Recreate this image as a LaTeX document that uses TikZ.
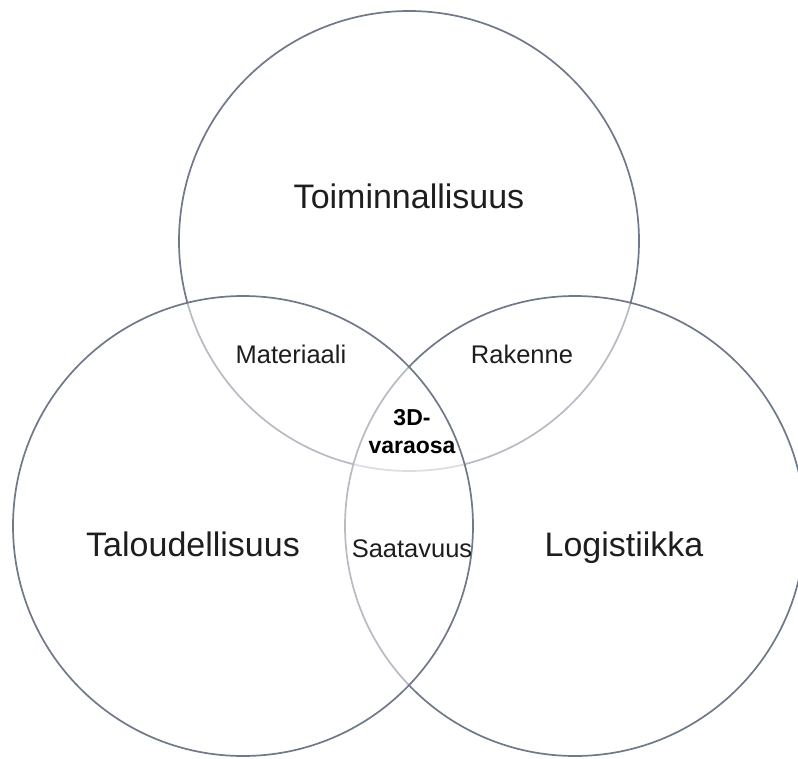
\documentclass[tikz,border=0pt]{standalone}
\usepackage{fontspec}
\setmainfont{Liberation Sans}
\usepackage{xcolor}
\usepackage{tikz}
\definecolor{ringgray}{HTML}{6F7989}
\definecolor{textgray}{HTML}{1E1E1E}
\tikzstyle{ring} = [circle, draw=ringgray, line width=1.7pt, fill=white, fill opacity=0.5, inner sep=0pt, minimum size=460pt]
\tikzstyle{l1} = [text=textgray, inner sep=0pt, anchor=base, font=\fontsize{34}{40}\selectfont]
\tikzstyle{l2} = [text=textgray, inner sep=0pt, anchor=base, font=\fontsize{25.5}{30}\selectfont]
\tikzstyle{l3} = [text=black, inner sep=0pt, align=center, font=\bfseries\fontsize{23}{28}\selectfont]

\begin{document}
\begin{tikzpicture}[x=1pt, y=-1pt]
\useasboundingbox (0,0) rectangle (798,758);
\clip (0,0) rectangle (798,758);
% sets
\node(T)[ring] at (409,241) {};
\node(L)[ring] at (575,526) {};
\node(E)[ring] at (243,526) {};
% labels
\node(TT)[l1] at (409,208) {Toiminnallisuus};
\node(EE)[l1] at (193,556) {Taloudellisuus};
\node(LL)[l1] at (624,556) {Logistiikka};
\node(TE)[l2] at (291,363) {Materiaali};
\node(TL)[l2] at (522,363) {Rakenne};
\node(EL)[l2] at (412,557) {Saatavuus};
\node(TEL)[l3] at (412,432) {3D-\\varaosa};
\end{tikzpicture}
\end{document}
